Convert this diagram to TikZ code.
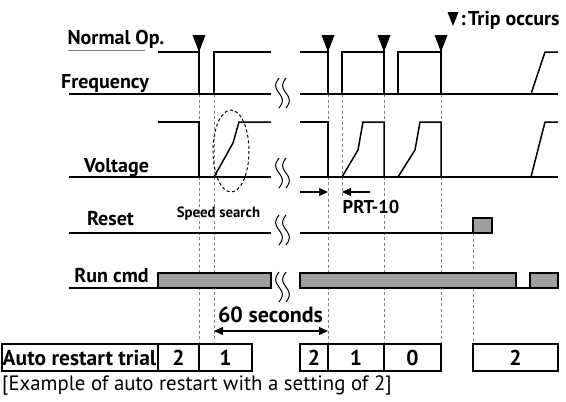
\documentclass[tikz,border=0pt]{standalone}
\usepackage{fontspec}
\setmainfont{PT Sans}
\usetikzlibrary{arrows.meta}
\definecolor{barg}{RGB}{158,158,158}
\definecolor{dashg}{RGB}{130,130,130}
\tikzset{
  sig/.style={line width=1.5pt, black},
  gline/.style={dashg, line width=0.8pt, dash pattern=on 3pt off 2.5pt},
  bar/.style={fill=barg, draw=black, line width=1.2pt},
  tbl/.style={draw=black, line width=1.2pt},
  lbl/.style={inner sep=0pt, anchor=base, font=\bfseries\fontsize{20}{22}\selectfont},
  tlbl/.style={inner sep=0pt, anchor=base, font=\bfseries\fontsize{21.5}{24}\selectfont},
  arr/.style={line width=1.2pt, -{Triangle[length=9pt,width=8pt]}},
}
\newcommand\tripmark[1]{\fill (#1-6.5,35) -- (#1+6.5,35) -- (#1,52) -- cycle; \draw[line width=1.5pt] (#1,35) -- (#1,52);}
\newcommand\squig[1]{\foreach \xx in {279,286}{\draw[line width=1pt] plot[domain=-15:15,samples=31,smooth] ({\xx+3.3*sin(12*\x)},{#1+\x});}}
\begin{document}
\begin{tikzpicture}[x=1pt,y=-1pt]
\useasboundingbox (0,0) rectangle (566,402);
% dashed guide lines
\draw[gline] (199,94) -- (199,344);
\draw[gline] (214,94) -- (214,344);
\draw[gline] (328,94) -- (328,344);
\draw[gline] (342,94) -- (342,196);
\draw[gline] (384,94) -- (384,344);
\draw[gline] (441,94) -- (441,344);
\draw[gline] (473,233) -- (473,344);
% Normal op underline
\draw[dashg, line width=0.8pt] (68,50) -- (145,50);
% Frequency
\draw[sig] (69,94) -- (271,94);
\draw[sig] (158,52) -- (199,52) -- (199,94);
\draw[sig] (214,94) -- (214,52) -- (271,52);
\draw[sig] (300,94) -- (558,94);
\draw[sig] (300,52) -- (328,52) -- (328,94);
\draw[sig] (342,94) -- (342,52) -- (384,52) -- (384,94);
\draw[sig] (398,94) -- (398,52) -- (441,52) -- (441,94);
\draw[sig] (531,94) -- (545,52) -- (558,52);
\tripmark{199}\tripmark{328}\tripmark{384}\tripmark{441}
% Voltage
\draw[sig] (69,177) -- (271,177);
\draw[sig] (158,122) -- (199,122) -- (199,177);
\draw[sig] (214,177) -- (233,143) -- (239,122) -- (271,122);
\draw[sig] (300,177) -- (558,177);
\draw[sig] (300,122) -- (328,122) -- (328,177);
\draw[sig] (342,177) -- (358,150) -- (363,122) -- (384,122) -- (384,177);
\draw[sig] (398,177) -- (415,150) -- (420,122) -- (441,122) -- (441,177);
\draw[sig] (531,177) -- (545,122) -- (558,122);
\draw[line width=1pt, dash pattern=on 3pt off 2.5pt] (231,151) ellipse [x radius=18, y radius=41];
% Reset
\draw[sig] (69,233) -- (271,233);
\draw[sig] (300,233) -- (473,233);
\filldraw[bar] (473,218) rectangle (492,233);
% Run cmd
\draw[sig] (69,288) -- (158,288);
\filldraw[bar] (158,273) rectangle (271,288);
\filldraw[bar] (300,273) rectangle (516,288);
\draw[sig] (516,288) -- (530,288);
\filldraw[bar] (530,273) rectangle (558,288);
% squiggles
\squig{93}\squig{173}\squig{230}\squig{287}
% arrows
\coordinate (pa1) at (300,192); \coordinate (pa2) at (328,192);
\coordinate (pb1) at (370,192); \coordinate (pb2) at (342,192);
\draw[arr] (pa1) -- (pa2);
\draw[arr] (pb1) -- (pb2);
\coordinate (s1) at (214,331); \coordinate (s2) at (328,331);
\draw[arr, {Triangle[length=9pt,width=8pt]}-{Triangle[length=9pt,width=8pt]}] (s1) -- (s2);
% labels
\node[lbl] (lnorm) at (116,44) {Normal Op.};
\node[lbl] (lfreq) at (105,88) {Frequency};
\node[lbl] (lvolt) at (116.5,172) {Voltage};
\node[lbl] (lreset) at (110.5,225) {Reset};
\node[lbl] (lrun) at (111.5,282) {Run cmd};
\node[inner sep=0pt, anchor=base, font=\bfseries\fontsize{14.8}{16}\selectfont] (lspeed) at (218.5,217) {Speed search};
\node[lbl, font=\bfseries\fontsize{18.5}{20}\selectfont] (lprt) at (371,213) {PRT-10};
\node[lbl, font=\bfseries\fontsize{22}{24}\selectfont] (lsec) at (270.5,322) {60 seconds};
\fill (447.5,12) -- (458.5,12) -- (453,26) -- cycle;
\node[lbl, anchor=base] (lcolon) at (463,25) {:};
\node[lbl, anchor=base west] (ltrip) at (468,25) {Trip occurs};
% table
\draw[tbl] (2,344) rectangle (158,371);
\draw[tbl] (158,344) rectangle (199,371);
\draw[tbl] (199,344) rectangle (252,371);
\draw[tbl] (300,344) rectangle (328,371);
\draw[tbl] (328,344) rectangle (384,371);
\draw[tbl] (384,344) rectangle (441,371);
\draw[tbl] (473,344) rectangle (558,371);
\node[tlbl] (tauto) at (79.5,365) {Auto restart trial};
\node[tlbl] (t1) at (178.5,365) {2};
\node[tlbl] (t2) at (225.5,365) {1};
\node[tlbl] (t3) at (314,365) {2};
\node[tlbl] (t4) at (356,365) {1};
\node[tlbl] (t5) at (412.5,365) {0};
\node[tlbl] (t6) at (515.5,365) {2};
\node[inner sep=0pt, anchor=base west, font=\fontsize{20.8}{22}\selectfont] (cap) at (2,390) {[Example of auto restart with a setting of 2]};
\end{tikzpicture}
\end{document}
